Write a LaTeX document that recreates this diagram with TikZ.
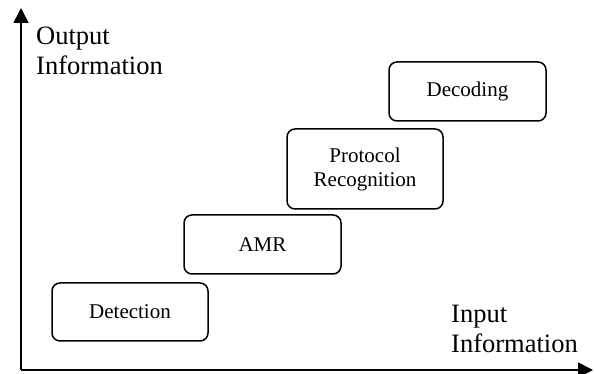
\documentclass[tikz,border=0pt]{standalone}
\usepackage{fontspec}
\setmainfont{Liberation Serif}
\usetikzlibrary{arrows.meta}
\begin{document}
\begin{tikzpicture}[x=1pt,y=1pt,
  axis/.style={line width=1.5pt,-{Triangle[length=15pt,width=15pt]}},
  stage/.style={draw,line width=1.5pt,rounded corners=8pt,align=center,
    font=\fontsize{21}{24}\selectfont,inner sep=0pt},
  axlabel/.style={align=left,inner sep=0pt,font=\fontsize{26.5}{30}\selectfont}]
\useasboundingbox (0,0) rectangle (595,374);
\coordinate (O) at (21,4);
\coordinate (ytip) at (21,366);
\coordinate (xtip) at (593,4);
\draw[axis] (O) -- (ytip);
\draw[axis] (O) -- (xtip);
\node[stage,minimum width=156pt,minimum height=58pt] (det) at (130,62) {Detection};
\node[stage,minimum width=157pt,minimum height=59pt] (amr) at (262.5,129.5) {AMR};
\node[stage,minimum width=156pt,minimum height=80pt] (pr) at (365,205) {Protocol\\Recognition};
\node[stage,minimum width=157pt,minimum height=59pt] (dec) at (467.5,282.5) {Decoding};
\node[axlabel,anchor=north west] (out) at (36,347) {Output\\Information};
\node[axlabel,anchor=north west] (in) at (451,69) {Input\\Information};
\end{tikzpicture}
\end{document}
